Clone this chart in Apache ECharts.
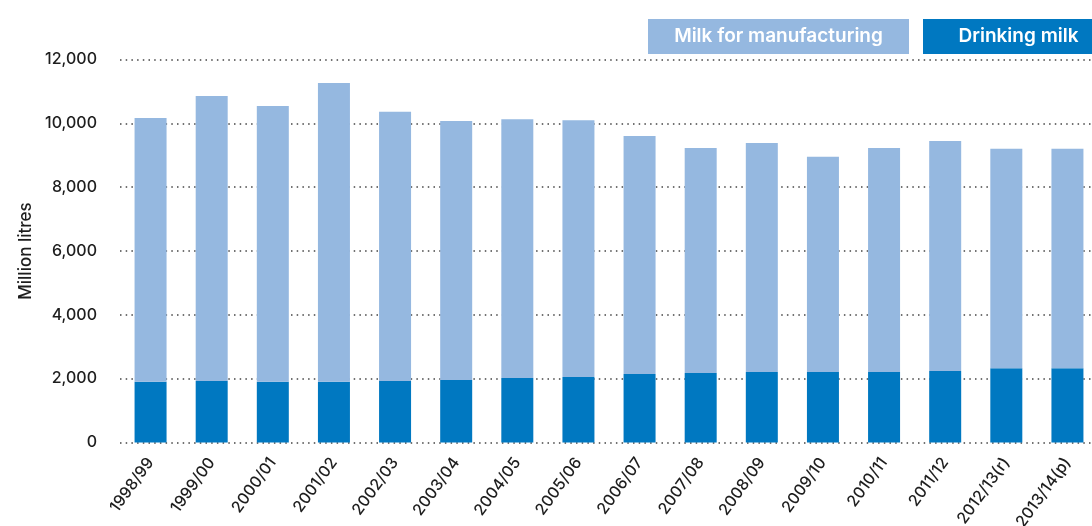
<!DOCTYPE html>
<html>
<head>
<meta charset="utf-8">
<script src="https://cdn.jsdelivr.net/npm/echarts@6/dist/echarts.min.js"></script>
<style>html,body{margin:0;padding:0;background:#fff}#c{width:1092px;height:526px}</style>
</head>
<body>
<div id="c"></div>
<script>
const categories = ['1998/99','1999/00','2000/01','2001/02','2002/03','2003/04','2004/05','2005/06','2006/07','2007/08','2008/09','2009/10','2010/11','2011/12','2012/13(r)','2013/14(p)'];
const drinkingMilk = [1900,1930,1900,1900,1930,1960,2020,2050,2150,2180,2210,2210,2210,2240,2330,2330];
const milkForManufacturing = [8270,8930,8640,9360,8430,8110,8110,8050,7450,7050,7170,6740,7020,7210,6870,6870];
const yTicks = [0,2000,4000,6000,8000,10000,12000];

const FONT = 'Inter, "Liberation Sans", Arial, sans-serif';
const LIGHT = '#95b8e0';
const DARK = '#0078c1';
const TEXT = '#1e1e1e';

const chart = echarts.init(document.getElementById('c'), null, {renderer:'canvas'});
chart.setOption({
  animation: false,
  textStyle: {fontFamily: FONT},
  grid: {left: 120, right: -6, top: 59.5, bottom: 83.5, containLabel: false, outerBoundsMode: 'none'},
  legend: {
    left: 638, top: 14, width: 800, orient: 'horizontal',
    itemWidth: 0, itemHeight: 0, itemGap: 9,
    selectedMode: false,
    data: [
      {name: 'Milk for manufacturing', icon: 'rect'},
      {name: 'Drinking milk', icon: 'rect'}
    ],
    formatter: function (name) {
      return name === 'Drinking milk' ? '{d|' + name + '}' : '{m|' + name + '}';
    },
    textStyle: {
      color: '#ffffff', fontSize: 19, fontFamily: FONT, fontWeight: 600,
      rich: {
        m: {backgroundColor: LIGHT, width: 261, height: 35, lineHeight: 35, align: 'center', verticalAlign: 'middle',
            color: '#fff', fontSize: 19, fontWeight: 600, fontFamily: FONT},
        d: {backgroundColor: DARK, width: 191, height: 35, lineHeight: 35, align: 'center', verticalAlign: 'middle',
            color: '#fff', fontSize: 19, fontWeight: 600, fontFamily: FONT}
      }
    }
  },
  xAxis: {
    type: 'category',
    data: categories,
    axisLine: {show: false},
    axisTick: {show: false},
    axisLabel: {rotate: 54, margin: 17, fontSize: 16, color: TEXT, fontFamily: FONT, fontWeight: 500, interval: 0}
  },
  yAxis: {
    type: 'value',
    min: yTicks[0], max: yTicks[yTicks.length-1], interval: 2000,
    name: 'Million litres',
    nameLocation: 'middle',
    nameGap: 79,
    nameRotate: 90,
    nameTextStyle: {fontSize: 17, color: TEXT, fontFamily: FONT, fontWeight: 500},
    axisLine: {show: false},
    axisTick: {show: false},
    axisLabel: {margin: 23, fontSize: 16, color: TEXT, fontFamily: FONT, fontWeight: 500,
      formatter: v => v.toLocaleString('en-US')},
    splitLine: {show: true, lineStyle: {color: '#444', width: 1.5, type: [1.5, 4.2]}}
  },
  series: [
    {name: 'Drinking milk', type: 'bar', stack: 'milk', barWidth: 32, data: drinkingMilk, itemStyle: {color: DARK}},
    {name: 'Milk for manufacturing', type: 'bar', stack: 'milk', barWidth: 32, data: milkForManufacturing, itemStyle: {color: LIGHT}}
  ]
});
</script>
</body>
</html>
